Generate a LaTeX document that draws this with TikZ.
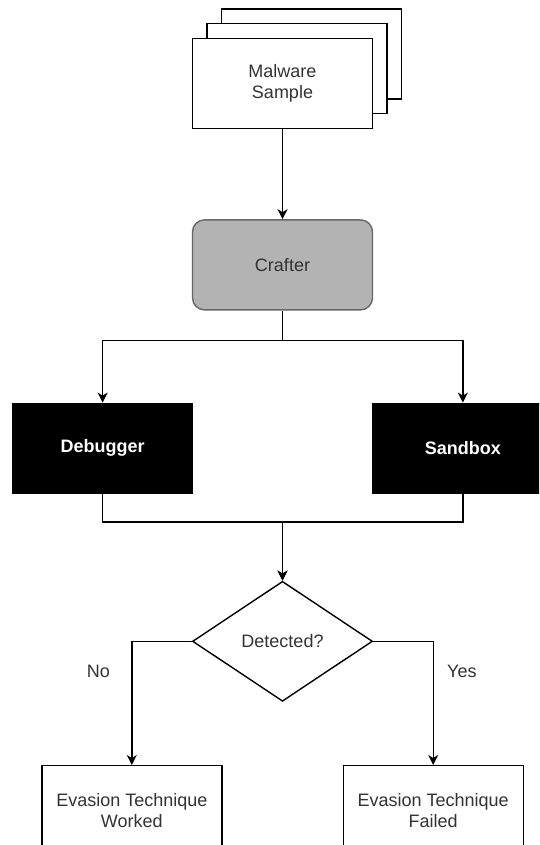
\documentclass[tikz,border=0pt]{standalone}
\usepackage{fontspec}
\setmainfont{Liberation Sans}
\usetikzlibrary{arrows.meta,positioning,shapes.geometric}

\definecolor{inkgray}{HTML}{333333}
\definecolor{craftfill}{HTML}{B3B3B3}
\definecolor{craftline}{HTML}{666666}

\begin{document}
\begin{tikzpicture}[x=1pt, y=-1pt, >={Stealth[length=10pt,width=10pt,inset=3pt]},
    line width=1.4pt, font=\fontsize{18}{21}\selectfont,
    box/.style={rectangle, draw, fill=white, text=inkgray, align=center,
        minimum width=180pt, minimum height=90pt},
    proc/.style={box, rounded corners=12pt, fill=craftfill, draw=craftline},
    tool/.style={box, fill=black, text=white, font=\fontsize{18}{21}\selectfont\bfseries},
    decision/.style={diamond, draw, aspect=1.5, inner sep=0pt, text=inkgray,
        minimum width=180pt, minimum height=120pt},
    answer/.style={text=inkgray}]
    \useasboundingbox (0,0) rectangle (539,845);
    \clip (0,0) rectangle (539,845);

    % Nodes {sample, crafter, debugger, sandbox, detected, worked, failed}
    \coordinate (stack) at (282.5,83.5);
    \node [box]         (sheet2)  at ([shift={(29,-29.5)}]stack)      {};
    \node [box]         (sheet1)  at ([shift={(14.5,-15)}]stack)      {};
    \node [box]         (sample)  at (stack)                          {Malware\\Sample};
    \node [proc]        (crafter) [below=90pt of sample]              {Crafter};
    \node [tool]        (debugger) [below left=92pt and -1.5pt of crafter] {Debugger};
    \node [tool]        (sandbox)  [below right=92pt and -1pt of crafter]  {Sandbox};
    \node [decision]    (detected) [below=270pt of crafter]           {Detected?};
    \node [box]         (worked) [below left=63pt and 60pt of detected.south]  {Evasion Technique\\Worked};
    \node [box]         (failed) [below right=63pt and 60pt of detected.south] {Evasion Technique\\Failed};

    % Paths
    \path [->]  (sample) edge (crafter);
    \draw [->]  (crafter.south) -- ++(0,30) -| (debugger.north);
    \draw [->]  (crafter.south) -- ++(0,30) -| (sandbox.north);
    \draw [->]  (debugger.south) -- ++(0,28) -| (detected.north);
    \draw [->]  (sandbox.south) -- ++(0,28) -| (detected.north);
    \draw [->]  (detected.west) -| node [answer, pos=0.62, left=18pt]  {No}  (worked.north);
    \draw [->]  (detected.east) -| node [answer, pos=0.62, right=10pt] {Yes} (failed.north);
\end{tikzpicture}
\end{document}
